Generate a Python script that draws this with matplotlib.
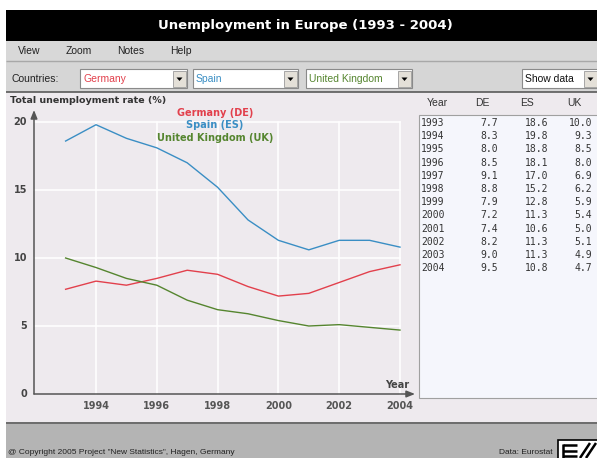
import matplotlib
matplotlib.use("Agg")
import matplotlib.pyplot as plt
from matplotlib.patches import Rectangle, Polygon

# ---------------- data ----------------
years = [1993, 1994, 1995, 1996, 1997, 1998, 1999, 2000, 2001, 2002, 2003, 2004]
de = [7.7, 8.3, 8.0, 8.5, 9.1, 8.8, 7.9, 7.2, 7.4, 8.2, 9.0, 9.5]
es = [18.6, 19.8, 18.8, 18.1, 17.0, 15.2, 12.8, 11.3, 10.6, 11.3, 11.3, 10.8]
uk = [10.0, 9.3, 8.5, 8.0, 6.9, 6.2, 5.9, 5.4, 5.0, 5.1, 4.9, 4.7]
xticks = [1994, 1996, 1998, 2000, 2002, 2004]
yticks = [0, 5, 10, 15, 20]
series_names = ["Germany (DE)", "Spain (ES)", "United Kingdom (UK)"]
codes = ["DE", "ES", "UK"]
countries = ["Germany", "Spain", "United Kingdom"]
menu_items = ["View", "Zoom", "Notes", "Help"]
title = "Unemployment in Europe (1993 - 2004)"

C_DE = "#e2404c"
C_ES = "#3a8ec4"
C_UK = "#55852f"
colors = [C_DE, C_ES, C_UK]

W, H = 597, 458
fig = plt.figure(figsize=(W / 100, H / 100), dpi=100)
fig.patch.set_facecolor("white")

def rect(x0, y0, x1, y1, fc, ec="none", lw=0, z=0):
    fig.patches.append(Rectangle((x0 / W, 1 - y1 / H), (x1 - x0) / W, (y1 - y0) / H,
                                 transform=fig.transFigure, facecolor=fc,
                                 edgecolor=ec, linewidth=lw, zorder=z))

def seg(x0, y0, x1, y1, c, lw=1, z=1):
    fig.add_artist(plt.Line2D([x0 / W, x1 / W], [1 - y0 / H, 1 - y1 / H],
                              transform=fig.transFigure, color=c, lw=lw, zorder=z,
                              solid_capstyle="butt"))

def txt(x, y, s, **kw):
    fig.text(x / W, 1 - y / H, s, **kw)

# title bar
rect(6, 10, W, 41, "black")
txt(305, 26, title, color="white", fontsize=9.5, fontweight="bold",
    ha="center", va="center", family="DejaVu Sans")

# menu bar
rect(6, 41, W, 61, "#d8d8d8")
seg(6, 60.5, W, 60.5, "#a8a8a8")
menu_x = [18, 66, 117, 170]
for x, m in zip(menu_x, menu_items):
    txt(x, 51, m, fontsize=7.5, ha="left", va="center", color="#222222",
        family="Liberation Sans")

# toolbar
rect(6, 61, W, 92, "#d6d6d6")
seg(6, 91.5, W, 91.5, "#5a5a5a", lw=1.2)
txt(12, 78.5, "Countries:", fontsize=7.5, ha="left", va="center", color="#222222",
    family="Liberation Sans")

def dropdown(x0, x1, label, color):
    rect(x0, 69, x1, 88, "white", ec="#8a8a8a", lw=0.8, z=2)
    rect(x1 - 14, 70.5, x1 - 1, 86.5, "#e4e0d8", ec="#9a9a9a", lw=0.6, z=3)
    cx = (x1 - 7.5) / W
    cy = 1 - 79 / H
    fig.patches.append(Polygon([[cx - 3 / W, cy + 1.5 / H], [cx + 3 / W, cy + 1.5 / H],
                                [cx, cy - 2 / H]], closed=True, transform=fig.transFigure,
                               facecolor="black", edgecolor="none", zorder=4))
    txt(x0 + 3, 79, label, fontsize=7.5, ha="left", va="center", color=color,
        family="Liberation Sans", zorder=4)

dropdown(80, 187, countries[0], C_DE)
dropdown(193, 298, countries[1], C_ES)
dropdown(306, 412, countries[2], C_UK)
dropdown(522, 598, "Show data", "#111111")

# main panel
rect(6, 92, W, 422, "#eeeaee")

# table box
rect(419, 115, W + 2, 398, "#f5f6fc", ec="#a0a0a0", lw=0.8, z=1)
txt(437, 103, "Year", fontsize=7.5, ha="center", va="center", color="#333333",
    family="Liberation Sans")
for x, c in zip([482, 527, 574], codes):
    txt(x, 103, c, fontsize=7.5, ha="center", va="center", color="#333333",
        family="Liberation Sans")
for i, (yr, a, b, c) in enumerate(zip(years, de, es, uk)):
    y = 123 + i * 13.2
    kw = dict(fontsize=7, va="center", color="#333333", family="DejaVu Sans Mono", zorder=3)
    txt(421, y, str(yr), ha="left", **kw)
    txt(498, y, f"{a:.1f}", ha="right", **kw)
    txt(548, y, f"{b:.1f}", ha="right", **kw)
    txt(592, y, f"{c:.1f}", ha="right", **kw)

# footer
rect(6, 422, W, H, "#b4b4b4")
seg(6, 422.5, W, 422.5, "#606060", lw=1.2)
txt(8, 452.5, "@ Copyright 2005 Project \"New Statistics\", Hagen, Germany",
    fontsize=6, ha="left", va="center", color="#222222", family="Liberation Sans")
txt(553, 452.5, "Data: Eurostat", fontsize=6, ha="right", va="center", color="#222222",
    family="Liberation Sans")
# logo: boxed "E/" mark drawn with strokes
rect(558, 440, W + 2, H + 2, "white", ec="black", lw=1.2, z=2)
for yy in (445, 450.5, 456):
    seg(563, yy, 577, yy, "black", lw=1.8, z=3)
seg(563, 444, 563, 458, "black", lw=1.8, z=3)
seg(580, 458, 590, 443, "black", lw=1.8, z=3)
seg(586, 458, 596, 443, "black", lw=1.8, z=3)

# ---------------- plot axes ----------------
px_per_year = (400 - 96) / 10.0
x_left = 1994 - (96 - 34) / px_per_year
x_right = 2004 + (415 - 400) / px_per_year
px_per_unit = (394 - 122) / 20.0
y_top = (394 - 110) / px_per_unit
ax = fig.add_axes([34 / W, 1 - 394 / H, (415 - 34) / W, (394 - 110) / H])
ax.set_zorder(5)
ax.set_xlim(x_left, x_right)
ax.set_ylim(0, y_top)
ax.patch.set_alpha(0)
for s in ax.spines.values():
    s.set_visible(False)
ax.set_xticks([])
ax.set_yticks([])

# grid
for yv in yticks[1:]:
    ax.plot([x_left, 2004], [yv, yv], color="white", lw=1.1, zorder=1, clip_on=False)
for xv in xticks:
    ax.plot([xv, xv], [0, 20], color="white", lw=1.1, zorder=1, clip_on=False)

# axes with arrows
ax.annotate("", xy=(x_right, 0), xytext=(x_left, 0),
            arrowprops=dict(arrowstyle="-|>,head_length=0.5,head_width=0.2",
                            color="#555555", lw=1.1, shrinkA=0, shrinkB=0))
ax.annotate("", xy=(x_left, y_top), xytext=(x_left, 0),
            arrowprops=dict(arrowstyle="-|>,head_length=0.5,head_width=0.2",
                            color="#555555", lw=1.1, shrinkA=0, shrinkB=0))

for vals, col in zip([es, de, uk], [C_ES, C_DE, C_UK]):
    ax.plot(years, vals, color=col, lw=1.0, zorder=3, solid_joinstyle="round",
            clip_on=False)

for yv in yticks:
    ax.text(x_left - 7 / px_per_year, yv, str(yv), ha="right", va="center",
            fontsize=7, fontweight="bold", color="#444444")
for xv in xticks:
    ax.text(xv, -12 / px_per_unit, str(xv), ha="center", va="center",
            fontsize=7, fontweight="bold", color="#555555")
ax.text(2003.9, 9 / px_per_unit, "Year", ha="center", va="center",
        fontsize=7, fontweight="bold", color="#444444")

# y label and legend (legend drawn in the axes, on top of the grid)
txt(10, 100.5, "Total unemployment rate (%)", fontsize=6.8, fontweight="bold",
    ha="left", va="center", color="#333333")
x_leg = x_left + (215 - 34) / px_per_year
for i, (n, c) in enumerate(zip(series_names, colors)):
    ypx = 113 + i * 12.5
    ax.text(x_leg, (394 - ypx) / px_per_unit, n, fontsize=7, fontweight="bold",
            ha="center", va="center", color=c, zorder=6)

fig.savefig("out.png", dpi=100)
